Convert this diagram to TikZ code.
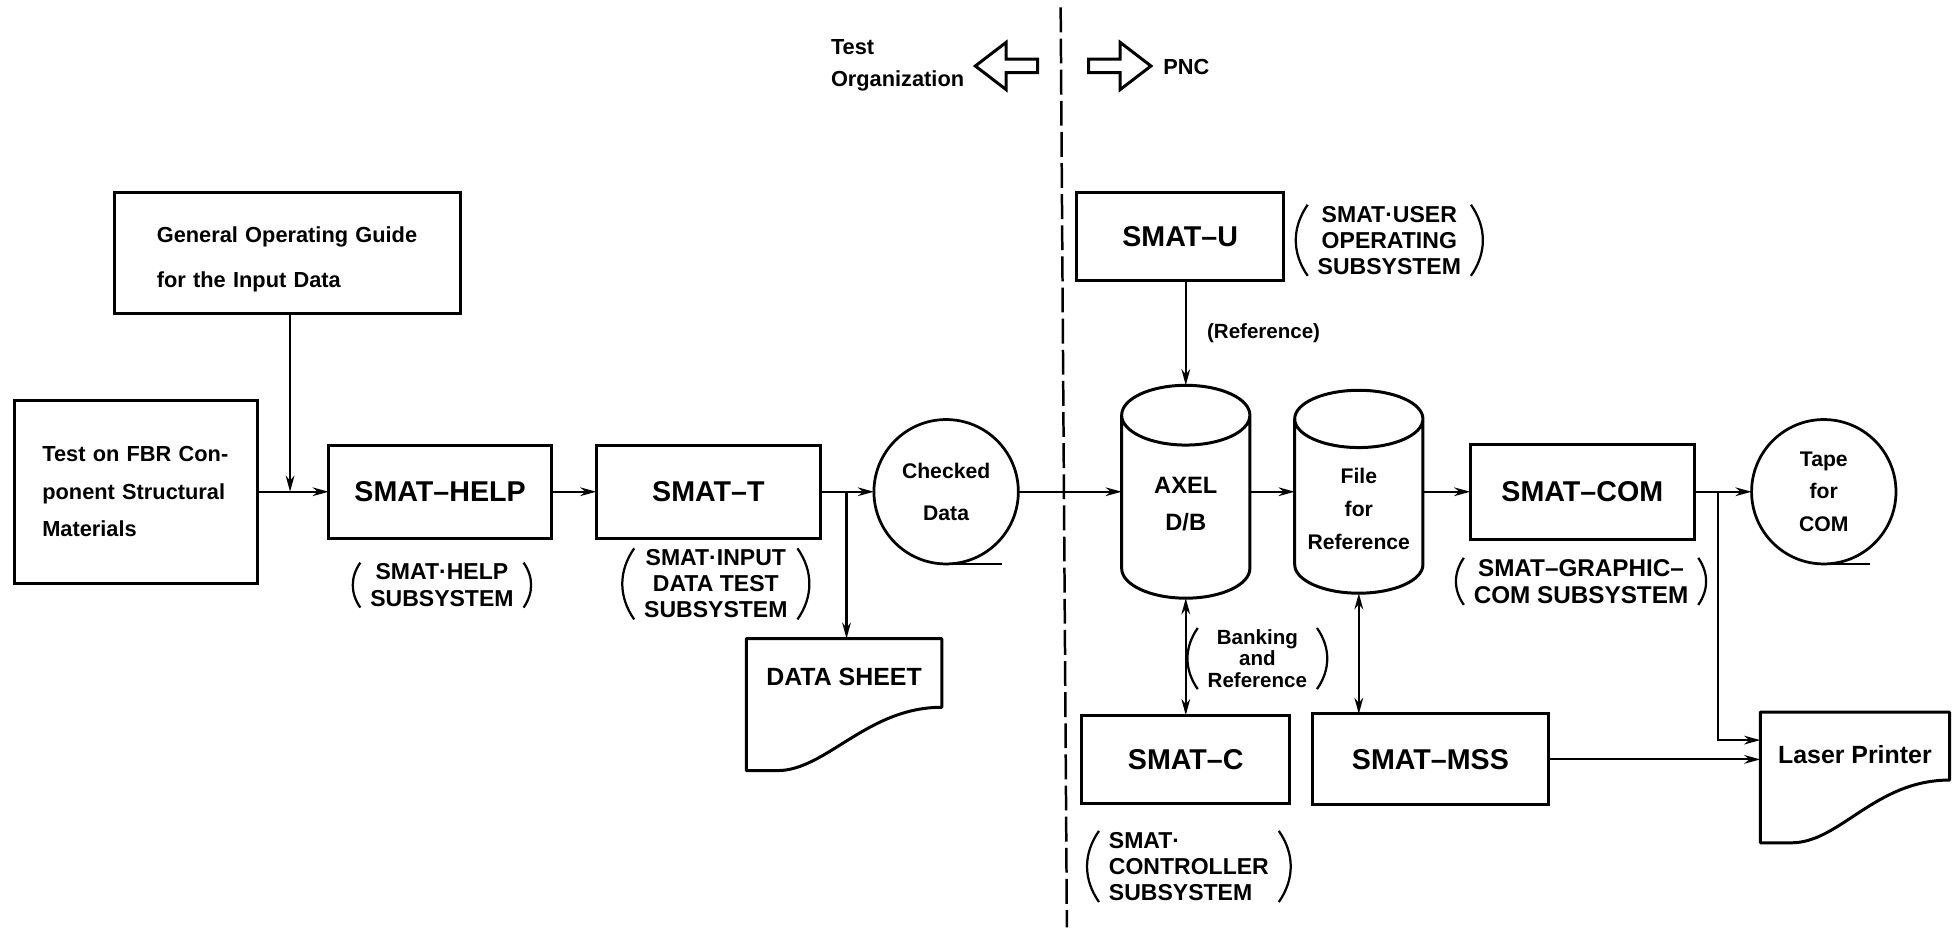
\documentclass[tikz,border=0pt]{standalone}
\usepackage{fontspec}
\setmainfont{Liberation Sans}
\usetikzlibrary{positioning, arrows.meta, calc, shapes.arrows}
\newcommand{\docoutline}[1]{
	\draw[-, line width=2.4pt, line join=round] (#1.south west) -- (#1.north west) -- (#1.north east)
		-- ($(#1.north east)!0.52!(#1.south east)$)
		.. controls ($(#1.north east)!0.52!(#1.south east)+(-60,0)$) and ($(#1.south west)+(64,0)$) .. ($(#1.south west)+(25,0)$)
		-- cycle;
}
\newcommand{\drumoutline}[2]{
	\draw[-, line width=2.4pt] ($(#1.north west)+(0,#2)$) -- ($(#1.south west)+(0,-#2)$)
		arc[start angle=180, end angle=360, x radius=51.5pt, y radius=#2pt]
		-- ($(#1.north east)+(0,#2)$)
		arc[start angle=0, end angle=180, x radius=51.5pt, y radius=#2pt]
		arc[start angle=180, end angle=360, x radius=51.5pt, y radius=#2pt];
}
\tikzset{
	>={Stealth[length=13pt,width=7pt]},
	x=1pt, y=-1pt,
	every node/.style={inner sep=0pt, outer sep=0pt, font=\bfseries},
	every edge/.append style={->},
	bigbox/.style={draw, line width=2.4pt, font=\bfseries\fontsize{23}{26}\selectfont},
	notebox/.style={draw, line width=2.4pt, font=\bfseries\fontsize{17.5}{20}\selectfont, align=left},
	storage/.style={minimum width=103pt},
	drumtext/.style={font=\bfseries\fontsize{17}{20}\selectfont, align=center},
	reel/.style={draw, line width=2.2pt, circle, minimum size=116pt, font=\bfseries\fontsize{17}{20}\selectfont, align=center},
	sheet/.style={font=\bfseries\fontsize{20}{23}\selectfont},
	subsys/.style={font=\bfseries\fontsize{18.5}{21}\selectfont, align=center, inner xsep=8pt, inner ysep=1pt,
		append after command={
			(\tikzlastnode.north west) edge[-, bend right=35, line width=1.8pt] (\tikzlastnode.south west)
			(\tikzlastnode.north east) edge[-, bend left=35, line width=1.8pt] (\tikzlastnode.south east)
		}},
	sidetext/.style={font=\bfseries\fontsize{17.5}{25}\selectfont, align=left},
	sidearrow/.style={draw, line width=2.4pt, single arrow, minimum height=50pt, minimum width=38pt, single arrow head extend=3pt, single arrow tip angle=75},
}
\begin{document}
\begin{tikzpicture}[line width=1.7pt]
		\useasboundingbox (0,0) rectangle (1568,750.3);
		\coordinate (DIVTOP) at (852,6);
		\coordinate (DIVBOT) at (857,745);
		\draw[line width=2pt, dash pattern=on 20pt off 5pt] (DIVTOP) -- (DIVBOT);

		\node[sidetext] (ORG) at (721,52.5) {Test\\Organization};
		\node[sidearrow, shape border rotate=180] (ARROWL) at (812,53) {};
		\node[sidearrow] (ARROWR) at (896,53) {};
		\node[sidetext] (PNC) at (953,54) {PNC};

		\node[notebox, minimum width=278pt, minimum height=97pt, text width=210pt, text height=23pt] (GUIDE) at (231,203.5) {General Operating Guide\\[16pt]for the Input Data};
		\node[notebox, minimum width=195pt, minimum height=147pt, text width=151pt] (TEST) at (109.5,395) {Test on FBR Con-\\[10pt]ponent Structural\\[10pt]Materials};
		\node[bigbox, minimum width=179pt, minimum height=75pt, right=57pt of TEST] (HELP) {SMAT--HELP};
		\node[bigbox, minimum width=180pt, minimum height=75pt, right=36pt of HELP] (T) {SMAT--T};
		\node[reel, right=43pt of T] (CHECKED) {Checked\\[14pt]Data};
		\node[storage, minimum height=171pt, right=83pt of CHECKED, label={[drumtext, font=\bfseries\fontsize{19}{22}\selectfont, yshift=-10pt]center:{AXEL\\[8pt]D/B}}] (AXEL) {};
		\node[storage, minimum height=163pt, right=36pt of AXEL, label={[drumtext, yshift=-14pt]center:{File\\[6.5pt]for\\[6.5pt]Reference}}] (FILE) {};
		\node[bigbox, minimum width=180pt, minimum height=76pt, right=38pt of FILE] (COM) {SMAT--COM};
		\node[reel, right=46pt of COM] (TAPE) {Tape\\[6pt]for\\[6pt]COM};
		\drumoutline{AXEL}{24}
		\drumoutline{FILE}{23}

		\node[bigbox, minimum width=166pt, minimum height=71pt, above=84pt of AXEL, xshift=-4.5pt] (U) {SMAT--U};
		\node[bigbox, minimum width=167pt, minimum height=71pt, below=94pt of AXEL] (C) {SMAT--C};
		\node[bigbox, minimum width=190pt, minimum height=73pt, below=97pt of FILE, xshift=57.5pt] (MSS) {SMAT--MSS};

		\node[sheet, minimum width=157pt, minimum height=106pt, label={[sheet, yshift=22pt]center:DATA SHEET}] (SHEET) at (678,566) {};
		\node[sheet, minimum width=152pt, minimum height=105pt, label={[sheet, yshift=18pt]center:Laser Printer}] (LASER) at (1490,624.5) {};
		\docoutline{SHEET}
		\docoutline{LASER}

		\node[subsys] (HELPSUB) at (355,470) {SMAT·HELP\\SUBSYSTEM};
		\node[subsys] (TSUB) at (575,469) {SMAT·INPUT\\DATA TEST\\SUBSYSTEM};
		\node[subsys] (USUB) at (1116,193) {SMAT·USER\\OPERATING\\SUBSYSTEM};
		\node[subsys, align=left] (CSUB) at (955,696) {SMAT·\\CONTROLLER\\SUBSYSTEM};
		\node[subsys, font=\bfseries\fontsize{19.5}{22}\selectfont] (COMSUB) at (1270,467) {SMAT--GRAPHIC--\\COM SUBSYSTEM};
		\node[subsys, font=\bfseries\fontsize{16.5}{17.5}\selectfont] (BANKING) at (1010,529) {Banking\\and\\Reference};
		\node[font=\bfseries\fontsize{16.5}{19}\selectfont] (REFTEXT) at (1015,268) {(Reference)};

		\coordinate (JGUIDE) at (233,395);
		\coordinate (JSHEET) at (680,395);
		\coordinate (JCOM) at (1380,395);
		\coordinate (JLASER) at (1380,594.5);

		\draw
			(TEST) edge (HELP)
			(JGUIDE |- GUIDE.south) edge (JGUIDE)
			%
			(HELP) edge (T)
			(T) edge (CHECKED)
			(JSHEET) edge (JSHEET |- SHEET.north)
			%
			(CHECKED) edge (AXEL.west)
			(AXEL.north |- U.south) edge (AXEL.north)
			(AXEL.south) edge[<->] (AXEL.south |- C.north)
			%
			(AXEL.east) edge (FILE.west)
			(FILE.south) edge[<->] (FILE.south |- MSS.north)
			%
			(FILE.east) edge (COM)
			(COM) edge (TAPE)
			%
			(MSS) edge (MSS -| LASER.west)
		;
		\draw[->] (JCOM) -- (JLASER) -- (JLASER -| LASER.west);
		\draw[line width=2pt] (CHECKED.south) -- ++(45,0);
		\draw[line width=2pt] (TAPE.south) -- ++(37,0);
	\end{tikzpicture}
\end{document}
